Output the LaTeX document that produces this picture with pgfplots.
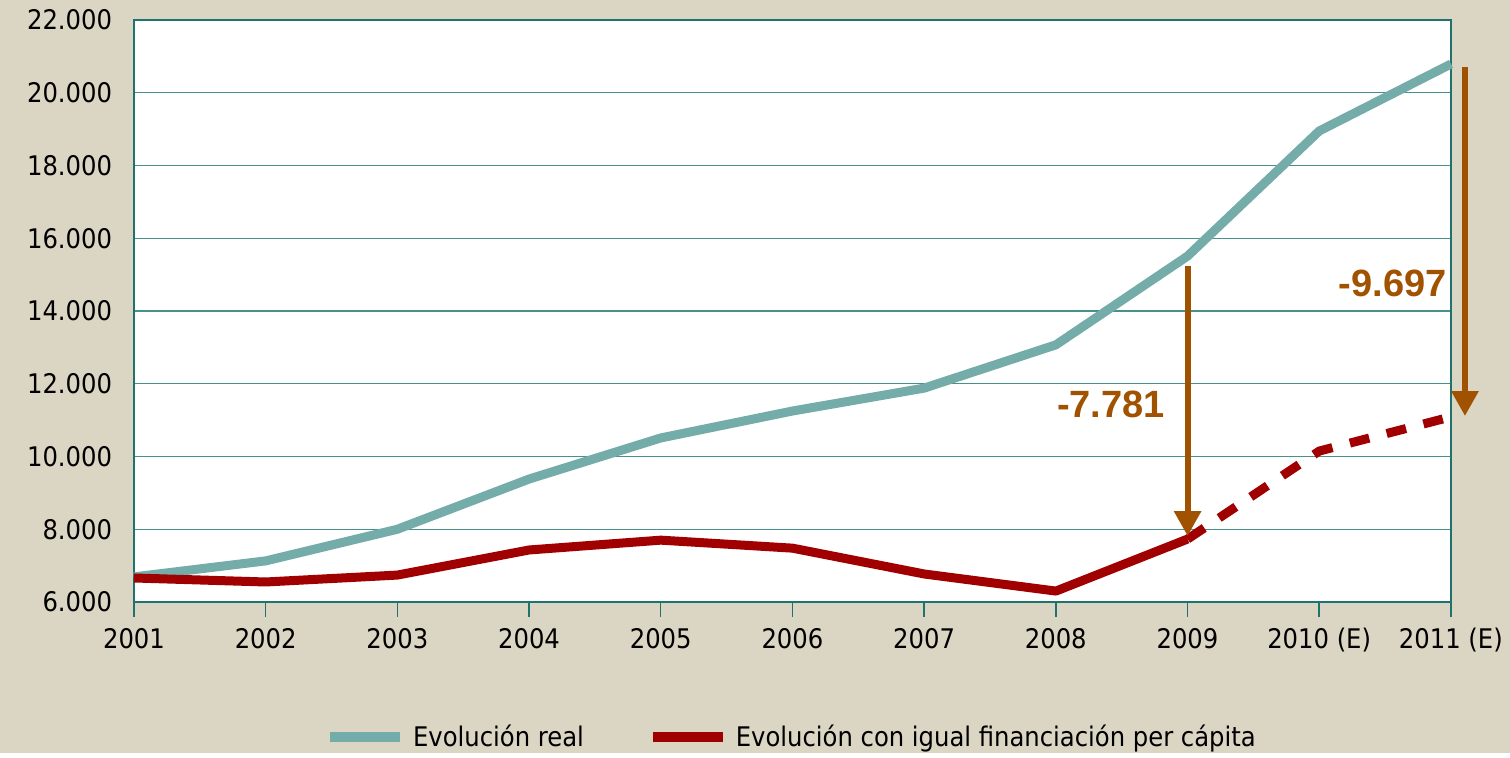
\documentclass[border=0pt]{standalone}
\usepackage{pgfplots}
\pgfplotsset{compat=1.18}
\usetikzlibrary{arrows.meta}
\usepackage{fontspec}
\setmainfont{DejaVu Sans Condensed}
\newfontfamily\annot{Liberation Sans}

\definecolor{bg}{RGB}{219,213,196}
\definecolor{realc}{RGB}{116,172,169}
\definecolor{capc}{RGB}{160,0,0}
\definecolor{arrc}{RGB}{160,82,0}
\definecolor{gridc}{RGB}{70,145,140}
\definecolor{axc}{RGB}{30,115,110}

\begin{document}
\begin{tikzpicture}[x=1pt,y=1pt]
\fill[bg] (0,0) rectangle (755,376.5);
\begin{axis}[
    at={(67pt,75.5pt)}, anchor=south west,
    scale only axis,
    width=658.5pt, height=291pt,
    xmin=2001, xmax=2011,
    ymin=6000, ymax=22000,
    axis background/.style={fill=white},
    axis line style={axc, line width=0.9pt},
    xtick={2001,...,2011},
    xticklabels={2001,2002,2003,2004,2005,2006,2007,2008,2009,2010 (E),2011 (E)},
    ytick={6000,8000,...,22000},
    yticklabels={6.000,8.000,10.000,12.000,14.000,16.000,18.000,20.000,22.000},
    scaled y ticks=false,
    ymajorgrids,
    major grid style={gridc, line width=0.7pt},
    tick align=outside,
    xtick pos=bottom,
    major tick length=7.5pt,
    xtick style={axc, line width=0.7pt},
    ytick style={draw=none},
    tick label style={font=\fontsize{13.5}{16}\selectfont, black},
    xticklabel style={yshift=-2pt},
    clip=false,
    legend style={at={(0.5,-0.232)}, anchor=center, draw=none, fill=none,
        legend columns=2, font=\fontsize{13.5}{16}\selectfont,
        /tikz/every odd column/.append style={column sep=2pt},
        /tikz/every even column/.append style={column sep=30pt}},
    legend cell align=left,
    legend image code/.code={\draw[#1, line width=5pt, dash pattern=] (0pt,0pt) -- (35pt,0pt);},
]
% Evolucion real
\addplot[realc, line width=4.5pt, line join=round] coordinates {
    (2001,6690) (2002,7130) (2003,8000) (2004,9380) (2005,10510)
    (2006,11250) (2007,11880) (2008,13070) (2009,15510) (2010,18950) (2011,20790)
};
\addlegendentry{Evolución real}
% igual financiacion per capita
\addplot[capc, line width=4.5pt, line join=round] coordinates {
    (2001,6660) (2002,6550) (2003,6740) (2004,7430) (2005,7700)
    (2006,7480) (2007,6770) (2008,6300) (2009,7730)
};
\addlegendentry{Evolución con igual financiación per cápita}
\addplot[capc, line width=4.5pt, dash pattern=on 10pt off 9pt, forget plot] coordinates {
    (2009,7730) (2010,10150) (2011,11090)
};

\draw[arrc, line width=3pt, -{Triangle[width=13pt,length=12.5pt]}]
    (axis cs:2009,15237) -- (axis cs:2009,7814);
\draw[arrc, line width=3pt, -{Triangle[width=13pt,length=12.5pt]}]
    (axis cs:2011.106,20708) -- (axis cs:2011.106,11113);
\node[anchor=east, arrc, inner sep=0pt, font=\annot\bfseries\fontsize{19}{22}\selectfont]
    at (axis cs:2008.83,11443) {-7.781};
\node[anchor=east, arrc, inner sep=0pt, font=\annot\bfseries\fontsize{19}{22}\selectfont]
    at (axis cs:2010.97,14770) {-9.697};
\end{axis}
\end{tikzpicture}
\end{document}
